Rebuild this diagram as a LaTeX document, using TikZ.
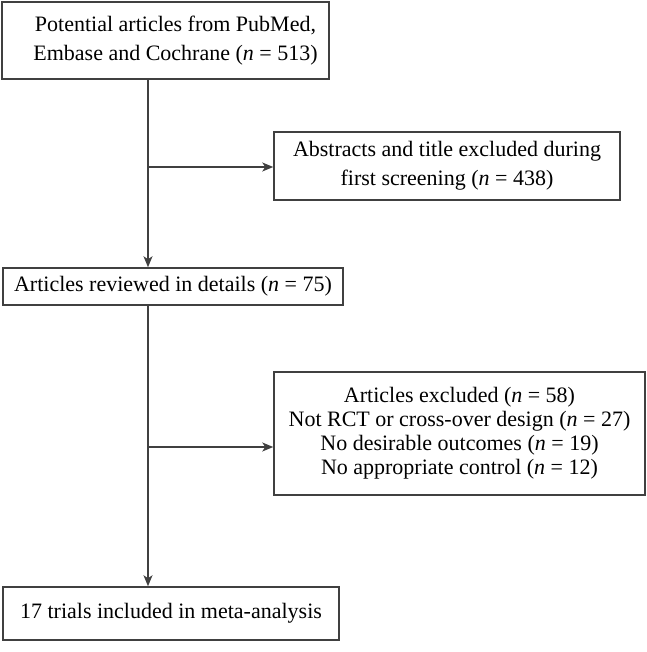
\documentclass[tikz,border=0pt]{standalone}
\usepackage{fontspec}
\setmainfont{Liberation Serif}
\usetikzlibrary{arrows.meta}
\definecolor{ln}{HTML}{404040}
\begin{document}
\begin{tikzpicture}[x=1pt,y=-1pt,
  box/.style={draw=ln, line width=1.5pt, fill=white, inner sep=0pt, align=center, text=black, font=\fontsize{22}{29}\selectfont},
  tight/.style={font=\fontsize{22}{24}\selectfont},
  conn/.style={draw=ln, line width=1.5pt, -{Stealth[length=11pt,width=9pt,inset=3pt]}}]
\useasboundingbox (0,0) rectangle (646,652);
\node[box, minimum width=327pt, minimum height=77pt] (src) at (165.5,40.5)
  {\hspace*{20pt}Potential articles from PubMed,\\\hspace*{20pt}Embase and Cochrane (\textit{n} = 513)};
\node[box, minimum width=346pt, minimum height=68pt] (abs) at (447,166)
  {Abstracts and title excluded during\\first screening (\textit{n} = 438)};
\node[box, minimum width=340pt, minimum height=37pt] (rev) at (173,286.5)
  {Articles reviewed in details (\textit{n} = 75)};
\node[box, tight, minimum width=371pt, minimum height=123pt] (exc) at (459.5,433.5)
  {Articles excluded (\textit{n} = 58)\\Not RCT or cross-over design (\textit{n} = 27)\\No desirable outcomes (\textit{n} = 19)\\No appropriate control (\textit{n} = 12)};
\node[box, minimum width=336pt, minimum height=53pt] (inc) at (171,613.5)
  {17 trials included in meta-analysis};
\coordinate (spine) at (148,0);
\coordinate (j1) at (148,167);
\coordinate (j2) at (148,447);
\draw[conn] (spine |- src.south) -- (spine |- rev.north);
\draw[conn] (j1) -- (j1 -| abs.west);
\draw[conn] (spine |- rev.south) -- (spine |- inc.north);
\draw[conn] (j2) -- (j2 -| exc.west);
\end{tikzpicture}
\end{document}
